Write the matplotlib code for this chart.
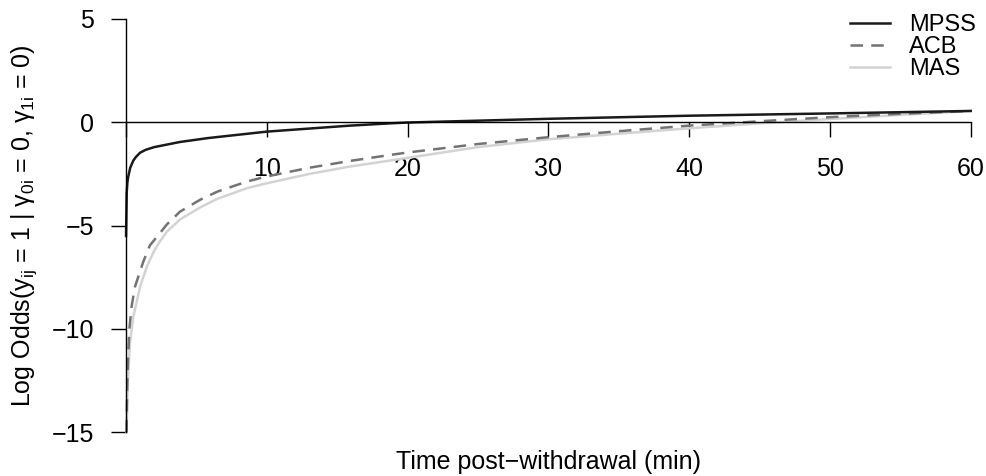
import matplotlib
matplotlib.use("Agg")
import matplotlib.pyplot as plt

plt.rcParams['font.family'] = ['Liberation Sans', 'DejaVu Sans']
plt.rcParams['mathtext.fontset'] = 'custom'
plt.rcParams['mathtext.rm'] = 'Liberation Sans'
plt.rcParams['mathtext.it'] = 'Liberation Sans'

# values (time in min, log odds)
mpss_t = [0.003, 0.05, 0.1, 0.16, 0.3, 0.52, 0.7, 1.0, 1.4, 2.0, 3.84, 5.85, 10, 15.9, 18.75, 20, 30, 40, 50, 60]
mpss_y = [-5.5, -3.4, -2.9, -2.63, -2.2, -1.85, -1.68, -1.47, -1.33, -1.2, -0.95, -0.76, -0.45, -0.16, -0.05, -0.01,
          0.17, 0.32, 0.43, 0.55]

acb_t = [0.04, 0.08, 0.14, 0.24, 0.4, 0.64, 1.23, 1.7, 2.37, 2.89, 3.84, 5.26, 6.5, 8.57, 10, 13, 15.9,
         18.75, 20, 25, 30, 35, 40, 45, 50, 55, 60]
acb_y = [-15, -13, -11.6, -10.0, -8.9, -7.95, -6.74, -5.95, -5.4, -4.95, -4.32, -3.75, -3.35, -2.87, -2.62, -2.2, -1.87,
         -1.58, -1.46, -1.05, -0.72, -0.43, -0.16, 0.05, 0.25, 0.41, 0.55]

mas_t = [0.04, 0.1, 0.17, 0.28, 0.52, 1.0, 1.5, 1.94, 2.37, 2.89, 3.84, 5.26, 6.5, 8.57, 10, 13, 15.9,
         18.75, 20, 25, 30, 35, 40, 45, 50, 55, 60]
mas_y = [-15, -13.2, -12.0, -10.7, -9.4, -7.95, -6.95, -6.3, -5.8, -5.3, -4.7, -4.12, -3.7, -3.19, -2.95, -2.5, -2.14,
         -1.85, -1.72, -1.2, -0.82, -0.55, -0.29, -0.05, 0.16, 0.36, 0.55]

x_ticks = [0, 10, 20, 30, 40, 50, 60]
y_ticks = [-15, -10, -5, 0, 5]

fig = plt.figure(figsize=(9.87, 4.76), dpi=100)
ax = fig.add_axes([126 / 987, 1 - 432.3 / 476, 844.7 / 987, 413.3 / 476])

l_mas, = ax.plot(mas_t, mas_y, color='#d3d3d3', lw=1.8, clip_on=False)
l_acb, = ax.plot(acb_t, acb_y, color='#737373', lw=1.8, dashes=(5, 3.3), clip_on=False)
l_mpss, = ax.plot(mpss_t, mpss_y, color='#1a1a1a', lw=1.8, clip_on=False)

ax.set_xlim(0, 60)
ax.set_ylim(-15, 5)

# axes: y on the left, x drawn through zero
ax.spines['top'].set_visible(False)
ax.spines['right'].set_visible(False)
ax.spines['bottom'].set_position(('data', 0))
ax.spines['bottom'].set_bounds(0, 60)
ax.spines['left'].set_bounds(-15, 5)
for s in ['bottom', 'left']:
    ax.spines[s].set_linewidth(1.0)

ax.set_xticks(x_ticks)
ax.set_xticklabels([''] + [str(v) for v in x_ticks[1:]])
ax.set_yticks(y_ticks)
ax.tick_params(axis='x', length=10.8, width=1.0, pad=14, labelsize=18)
ax.tick_params(axis='y', length=10.8, width=1.0, pad=12, labelsize=18)

ax.legend([l_mpss, l_acb, l_mas], ['MPSS', 'ACB', 'MAS'], loc='upper right',
          bbox_to_anchor=(1.017, 1.035), frameon=False, fontsize=17,
          handlelength=1.7, handletextpad=0.8, labelspacing=0.0, borderaxespad=0.0)

fig.text(548 / 987, 1 - 462 / 476, 'Time post\u2212withdrawal (min)', fontsize=18,
         ha='center', va='center')
fig.text(24 / 987, 1 - 225.6 / 476,
         r'Log Odds(y$_{\mathrm{ij}}$ = 1 | γ$_{\mathrm{0i}}$ = 0, γ$_{\mathrm{1i}}$ = 0)',
         fontsize=18, rotation=90, ha='center', va='center')

fig.savefig('out.png', dpi=100)
